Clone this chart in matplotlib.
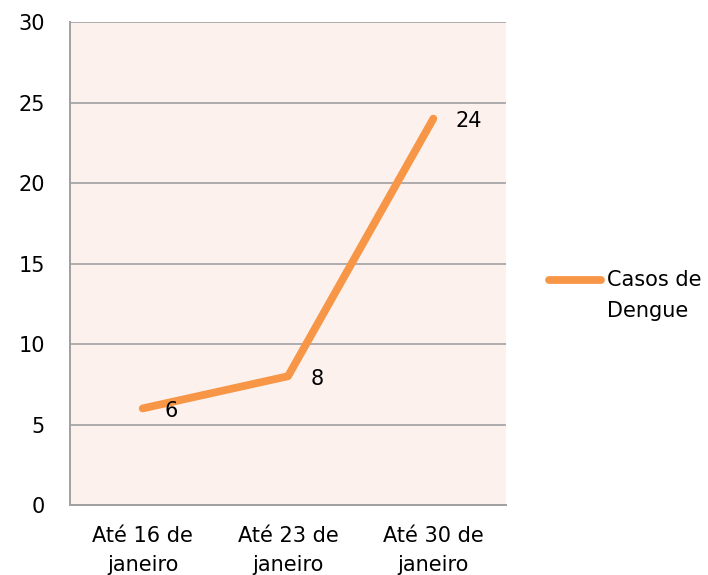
import matplotlib.pyplot as plt
from matplotlib.lines import Line2D

categories = ['Até 16 de\njaneiro', 'Até 23 de\njaneiro', 'Até 30 de\njaneiro']
casos = [6, 8, 24]
yticks = [0, 5, 10, 15, 20, 25, 30]
serie = 'Casos de\nDengue'

plt.rcParams['font.family'] = ['DejaVu Sans']
fs = 15

fig = plt.figure(figsize=(7.08, 5.75), dpi=100)
ax = fig.add_axes([0.0989, 0.1217, 0.6158, 0.84])
ax.set_facecolor('#FDF1EE')

x = list(range(len(categories)))
line, = ax.plot(x, casos, color='#F79646', lw=5.6, solid_capstyle='round',
                zorder=3)
for xi, v in zip(x, casos):
    ax.annotate(str(v), (xi, v), xytext=(16, -2), textcoords='offset points',
                ha='left', va='center', fontsize=fs, color='black')

ax.set_xlim(-0.5, 2.5)
ax.set_ylim(0, 30)
ax.set_yticks(yticks)
ax.set_xticks(x)
ax.set_xticklabels(categories, fontsize=fs, linespacing=1.6)
ax.tick_params(axis='y', labelsize=fs, length=0, pad=18)
ax.tick_params(axis='x', length=0, pad=15)
ax.grid(axis='y', color='#A0A0A0', lw=1.2)
ax.set_axisbelow(True)
for s in ['top', 'right']:
    ax.spines[s].set_visible(False)
for s in ['left', 'bottom']:
    ax.spines[s].set_color('#A0A0A0')
    ax.spines[s].set_linewidth(1.4)

# legend drawn by hand so the key sits on the first text line
ly = 1 - 280 / 575
fig.add_artist(Line2D([549 / 708, 601 / 708], [ly, ly], color='#F79646',
                      lw=5.6, solid_capstyle='round'))
fig.text(607 / 708, 1 - 270 / 575, serie, fontsize=fs, ha='left', va='top',
         linespacing=1.7)

fig.savefig('out.png', dpi=100)
